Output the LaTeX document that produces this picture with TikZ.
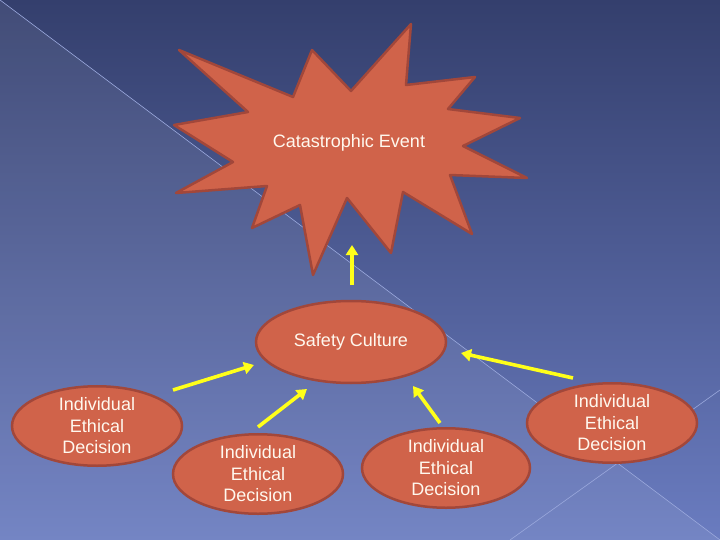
\documentclass[tikz,border=0pt]{standalone}
\usepackage{fontspec}
\setmainfont{Liberation Sans}
\usetikzlibrary{shapes.geometric,arrows.meta}
\definecolor{bgtop}{HTML}{343F6D}
\definecolor{bgbot}{HTML}{6A7CC0}
\definecolor{shapefill}{HTML}{D0634A}
\definecolor{shapeedge}{HTML}{A2473A}
\definecolor{txt}{HTML}{FFF8EE}
\definecolor{arrowyellow}{HTML}{FFFF1A}
\definecolor{gridline}{HTML}{9AA8DC}
\tikzset{
  bubble/.style={ellipse, draw=shapeedge, line width=2.5pt, fill=shapefill, inner sep=0pt,
    text=txt, align=center, font=\fontsize{18}{21.5}\selectfont},
  yarrow/.style={draw=arrowyellow, line width=3.6pt, -{Triangle[length=10pt,width=12pt]}},
  thinline/.style={draw=gridline, line width=0.6pt}
}
\begin{document}
\begin{tikzpicture}[x=1pt,y=-1pt]
\useasboundingbox (0,0) rectangle (720,540);
% background
\shade[top color=bgtop, bottom color=bgbot] (0,0) rectangle (720,540);
\fill[white, opacity=0.07] (0,0) -- (720,540) -- (0,540) -- cycle;
\draw[thinline] (0,0) -- (720,540);
\draw[thinline] (510,540) -- (720,390);
% star
\draw[draw=shapeedge, line width=2.5pt, fill=shapefill, line join=round]
  (179,50) -- (293,97) -- (312,50) -- (351,91) -- (411,24) -- (406,85)
  -- (475,77) -- (448,109) -- (520,118) -- (463,146) -- (527,178)
  -- (450,175) -- (472,234) -- (403,192) -- (391,253) -- (347,198)
  -- (313,275) -- (300,205) -- (252,228) -- (267,186) -- (176,193)
  -- (233,162) -- (174,125) -- (248,112) -- cycle;
\node[text=txt, font=\fontsize{18}{21.5}\selectfont] (event) at (349,143) {Catastrophic Event};
% ellipses
\node[bubble, minimum width=190pt, minimum height=82pt] (safety) at (351,342) {Safety Culture};
\node[bubble, minimum width=170pt, minimum height=72pt] (d1) at (97,426) {Individual\\Ethical\\Decision};
\node[bubble, minimum width=170pt, minimum height=72pt] (d2) at (258,474) {Individual\\Ethical\\Decision};
\node[bubble, minimum width=168pt, minimum height=72pt] (d3) at (446,468) {Individual\\Ethical\\Decision};
\node[bubble, minimum width=170pt, minimum height=72pt] (d4) at (612,423) {Individual\\Ethical\\Decision};
% arrow end points
\coordinate (t0) at (352,285); \coordinate (h0) at (352,245);
\coordinate (t1) at (173,390); \coordinate (h1) at (254,365);
\coordinate (t2) at (258,427); \coordinate (h2) at (307,389);
\coordinate (t3) at (440,423); \coordinate (h3) at (413,386);
\coordinate (t4) at (573,378); \coordinate (h4) at (461,353);
\draw[yarrow] (t0) -- (h0);
\draw[yarrow] (t1) -- (h1);
\draw[yarrow] (t2) -- (h2);
\draw[yarrow] (t3) -- (h3);
\draw[yarrow] (t4) -- (h4);
\end{tikzpicture}
\end{document}
